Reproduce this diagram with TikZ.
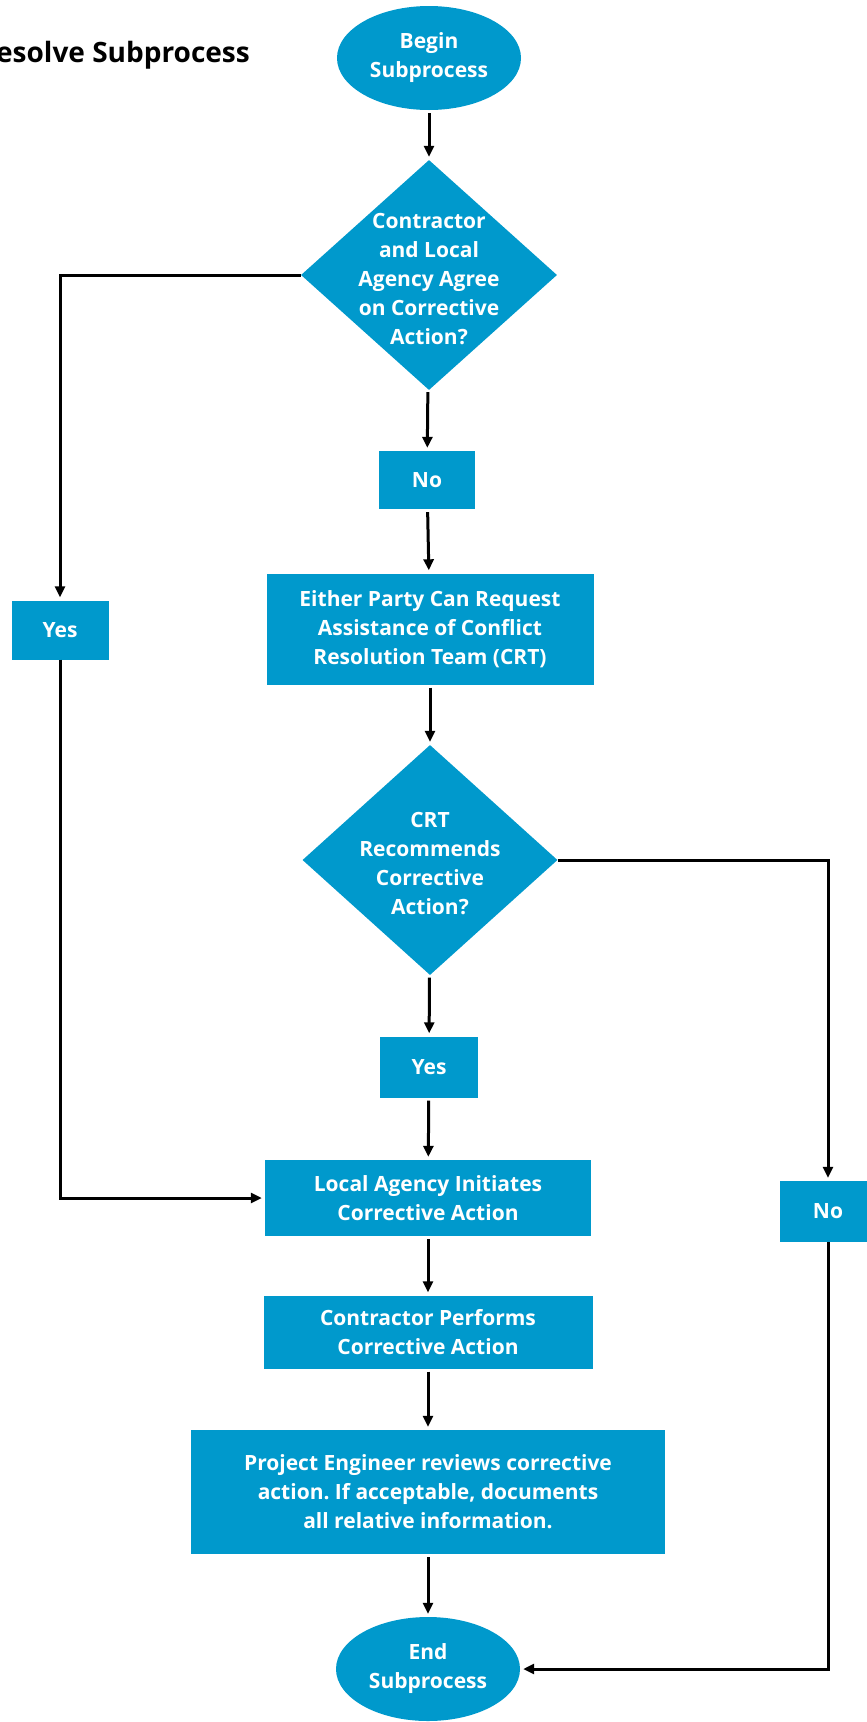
\documentclass[tikz,border=0pt]{standalone}
\usepackage{fontspec}
\setmainfont{Open Sans}
\frenchspacing
\usetikzlibrary{shapes.geometric,arrows.meta}
\definecolor{boxblue}{RGB}{0,153,204}
\tikzset{
  blk/.style={fill=boxblue, draw=none, text=white, font=\bfseries\fontsize{21}{29}\selectfont, align=center, inner sep=0pt},
  rbox/.style={blk, rectangle},
  oval/.style={blk, ellipse, minimum width=184pt, minimum height=104pt},
  dia/.style={blk, diamond},
  lbl/.style={text=white, font=\bfseries\fontsize{21}{29}\selectfont, align=center, inner sep=0pt},
  conn/.style={line width=3pt, -{Triangle[length=11pt,width=10pt]}, shorten >=3pt},
  gap/.style={shorten <=3pt}
}
\begin{document}
\begin{tikzpicture}[x=1pt,y=-1pt]
\useasboundingbox (0,0) rectangle (867,1722);
\node[anchor=west, font=\bfseries\fontsize{28}{30}\selectfont, inner sep=0pt] (title) at (-4,55) {esolve Subprocess};

\node[oval] (begin) at (429,58) {Begin\\Subprocess};
\node[dia, minimum width=256pt, minimum height=230pt] (d1) at (429,275) {};
\node[lbl] (d1t) at (429,279) {Contractor\\and Local\\Agency Agree\\on Corrective\\Action?};
\node[rbox, minimum width=96pt, minimum height=58pt] (no1) at (427,480) {No};
\node[rbox, minimum width=327pt, minimum height=111pt] (either) at (430,629) {Either Party Can Request\\Assistance of Conflict\\Resolution Team (CRT)};
\node[dia, minimum width=255pt, minimum height=230pt] (d2) at (430,860) {};
\node[lbl] (d2t) at (430,864) {CRT\\Recommends\\Corrective\\Action?};
\node[rbox, minimum width=98pt, minimum height=61pt] (yes2) at (429,1067) {Yes};
\node[rbox, minimum width=97pt, minimum height=59pt] (yes1) at (60,630) {Yes};
\node[rbox, minimum width=96pt, minimum height=61pt] (no2) at (828,1211.5) {No};
\node[rbox, minimum width=326pt, minimum height=76pt] (local) at (428,1198) {Local Agency Initiates\\Corrective Action};
\node[rbox, minimum width=329pt, minimum height=73pt] (contr) at (428,1332) {Contractor Performs\\Corrective Action};
\node[rbox, minimum width=474pt, minimum height=124pt] (pe) at (428,1492) {Project Engineer reviews corrective\\action. If acceptable, documents\\all relative information.};
\node[oval] (end) at (428,1669) {End\\Subprocess};

\draw[conn,gap] (begin) -- (d1);
\draw[conn,gap] (d1) -- (no1);
\draw[conn,gap] (no1) -- (either);
\draw[conn,gap] (either) -- (d2);
\draw[conn,gap] (d2) -- (yes2);
\draw[conn,gap] (yes2) -- (local);
\draw[conn,gap] (local) -- (contr);
\draw[conn,gap] (contr) -- (pe);
\draw[conn,gap] (pe) -- (end);
\draw[conn] (d1.west) -| (yes1.north);
\draw[conn] (yes1.south) |- (local.west);
\draw[conn] (d2.east) -| (no2.north);
\draw[conn] (no2.south) |- (end.east);
\end{tikzpicture}
\end{document}
